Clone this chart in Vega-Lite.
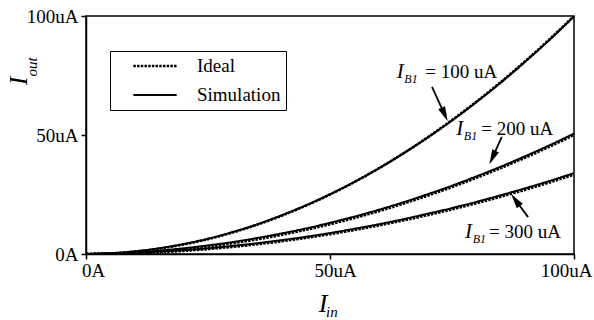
{
  "$schema": "https://vega.github.io/schema/vega-lite/v6.json",
  "width": 488,
  "height": 238,
  "autosize": {"type": "none"},
  "padding": {"left": 86, "top": 16, "right": 20, "bottom": 66},
  "background": "white",
  "config": {
    "font": "Liberation Serif, Times New Roman, serif",
    "view": {"stroke": "black", "strokeWidth": 1.5},
    "axis": {"grid": false, "domainColor": "black", "domainWidth": 1.5, "tickColor": "black", "tickWidth": 1.5, "tickSize": 5, "labelFont": "Liberation Serif, Times New Roman, serif", "labelFontSize": 19, "labelColor": "black", "title": null}
  },
  "datasets": {
    "curves": [
      {"Iin":0,"Iout":0,"IB":"100","type":"Ideal"},{"Iin":5,"Iout":0.25,"IB":"100","type":"Ideal"},{"Iin":10,"Iout":1,"IB":"100","type":"Ideal"},{"Iin":15,"Iout":2.25,"IB":"100","type":"Ideal"},{"Iin":20,"Iout":4,"IB":"100","type":"Ideal"},{"Iin":25,"Iout":6.25,"IB":"100","type":"Ideal"},{"Iin":30,"Iout":9,"IB":"100","type":"Ideal"},{"Iin":35,"Iout":12.25,"IB":"100","type":"Ideal"},{"Iin":40,"Iout":16,"IB":"100","type":"Ideal"},{"Iin":45,"Iout":20.25,"IB":"100","type":"Ideal"},{"Iin":50,"Iout":25,"IB":"100","type":"Ideal"},{"Iin":55,"Iout":30.25,"IB":"100","type":"Ideal"},{"Iin":60,"Iout":36,"IB":"100","type":"Ideal"},{"Iin":65,"Iout":42.25,"IB":"100","type":"Ideal"},{"Iin":70,"Iout":49,"IB":"100","type":"Ideal"},{"Iin":75,"Iout":56.25,"IB":"100","type":"Ideal"},{"Iin":80,"Iout":64,"IB":"100","type":"Ideal"},{"Iin":85,"Iout":72.25,"IB":"100","type":"Ideal"},{"Iin":90,"Iout":81,"IB":"100","type":"Ideal"},{"Iin":95,"Iout":90.25,"IB":"100","type":"Ideal"},{"Iin":100,"Iout":100,"IB":"100","type":"Ideal"},
      {"Iin":0,"Iout":0,"IB":"200","type":"Ideal"},{"Iin":5,"Iout":0.13,"IB":"200","type":"Ideal"},{"Iin":10,"Iout":0.5,"IB":"200","type":"Ideal"},{"Iin":15,"Iout":1.13,"IB":"200","type":"Ideal"},{"Iin":20,"Iout":2,"IB":"200","type":"Ideal"},{"Iin":25,"Iout":3.13,"IB":"200","type":"Ideal"},{"Iin":30,"Iout":4.5,"IB":"200","type":"Ideal"},{"Iin":35,"Iout":6.13,"IB":"200","type":"Ideal"},{"Iin":40,"Iout":8,"IB":"200","type":"Ideal"},{"Iin":45,"Iout":10.13,"IB":"200","type":"Ideal"},{"Iin":50,"Iout":12.5,"IB":"200","type":"Ideal"},{"Iin":55,"Iout":15.13,"IB":"200","type":"Ideal"},{"Iin":60,"Iout":18,"IB":"200","type":"Ideal"},{"Iin":65,"Iout":21.13,"IB":"200","type":"Ideal"},{"Iin":70,"Iout":24.5,"IB":"200","type":"Ideal"},{"Iin":75,"Iout":28.13,"IB":"200","type":"Ideal"},{"Iin":80,"Iout":32,"IB":"200","type":"Ideal"},{"Iin":85,"Iout":36.13,"IB":"200","type":"Ideal"},{"Iin":90,"Iout":40.5,"IB":"200","type":"Ideal"},{"Iin":95,"Iout":45.13,"IB":"200","type":"Ideal"},{"Iin":100,"Iout":50,"IB":"200","type":"Ideal"},
      {"Iin":0,"Iout":0,"IB":"300","type":"Ideal"},{"Iin":5,"Iout":0.08,"IB":"300","type":"Ideal"},{"Iin":10,"Iout":0.33,"IB":"300","type":"Ideal"},{"Iin":15,"Iout":0.75,"IB":"300","type":"Ideal"},{"Iin":20,"Iout":1.33,"IB":"300","type":"Ideal"},{"Iin":25,"Iout":2.08,"IB":"300","type":"Ideal"},{"Iin":30,"Iout":3,"IB":"300","type":"Ideal"},{"Iin":35,"Iout":4.08,"IB":"300","type":"Ideal"},{"Iin":40,"Iout":5.33,"IB":"300","type":"Ideal"},{"Iin":45,"Iout":6.75,"IB":"300","type":"Ideal"},{"Iin":50,"Iout":8.33,"IB":"300","type":"Ideal"},{"Iin":55,"Iout":10.08,"IB":"300","type":"Ideal"},{"Iin":60,"Iout":12,"IB":"300","type":"Ideal"},{"Iin":65,"Iout":14.08,"IB":"300","type":"Ideal"},{"Iin":70,"Iout":16.33,"IB":"300","type":"Ideal"},{"Iin":75,"Iout":18.75,"IB":"300","type":"Ideal"},{"Iin":80,"Iout":21.33,"IB":"300","type":"Ideal"},{"Iin":85,"Iout":24.08,"IB":"300","type":"Ideal"},{"Iin":90,"Iout":27,"IB":"300","type":"Ideal"},{"Iin":95,"Iout":30.08,"IB":"300","type":"Ideal"},{"Iin":100,"Iout":33.33,"IB":"300","type":"Ideal"},
      {"Iin":0,"Iout":0,"IB":"100","type":"Simulation"},{"Iin":5,"Iout":0.3,"IB":"100","type":"Simulation"},{"Iin":10,"Iout":1.1,"IB":"100","type":"Simulation"},{"Iin":15,"Iout":2.4,"IB":"100","type":"Simulation"},{"Iin":20,"Iout":4.2,"IB":"100","type":"Simulation"},{"Iin":25,"Iout":6.4,"IB":"100","type":"Simulation"},{"Iin":30,"Iout":9.2,"IB":"100","type":"Simulation"},{"Iin":35,"Iout":12.4,"IB":"100","type":"Simulation"},{"Iin":40,"Iout":16.2,"IB":"100","type":"Simulation"},{"Iin":45,"Iout":20.4,"IB":"100","type":"Simulation"},{"Iin":50,"Iout":25.1,"IB":"100","type":"Simulation"},{"Iin":55,"Iout":30.3,"IB":"100","type":"Simulation"},{"Iin":60,"Iout":36,"IB":"100","type":"Simulation"},{"Iin":65,"Iout":42.2,"IB":"100","type":"Simulation"},{"Iin":70,"Iout":48.9,"IB":"100","type":"Simulation"},{"Iin":75,"Iout":56.1,"IB":"100","type":"Simulation"},{"Iin":80,"Iout":63.8,"IB":"100","type":"Simulation"},{"Iin":85,"Iout":72,"IB":"100","type":"Simulation"},{"Iin":90,"Iout":80.8,"IB":"100","type":"Simulation"},{"Iin":95,"Iout":90,"IB":"100","type":"Simulation"},{"Iin":100,"Iout":99.8,"IB":"100","type":"Simulation"},
      {"Iin":0,"Iout":0,"IB":"200","type":"Simulation"},{"Iin":5,"Iout":0.2,"IB":"200","type":"Simulation"},{"Iin":10,"Iout":0.7,"IB":"200","type":"Simulation"},{"Iin":15,"Iout":1.4,"IB":"200","type":"Simulation"},{"Iin":20,"Iout":2.4,"IB":"200","type":"Simulation"},{"Iin":25,"Iout":3.6,"IB":"200","type":"Simulation"},{"Iin":30,"Iout":5,"IB":"200","type":"Simulation"},{"Iin":35,"Iout":6.7,"IB":"200","type":"Simulation"},{"Iin":40,"Iout":8.6,"IB":"200","type":"Simulation"},{"Iin":45,"Iout":10.7,"IB":"200","type":"Simulation"},{"Iin":50,"Iout":13.1,"IB":"200","type":"Simulation"},{"Iin":55,"Iout":15.7,"IB":"200","type":"Simulation"},{"Iin":60,"Iout":18.6,"IB":"200","type":"Simulation"},{"Iin":65,"Iout":21.7,"IB":"200","type":"Simulation"},{"Iin":70,"Iout":25.1,"IB":"200","type":"Simulation"},{"Iin":75,"Iout":28.7,"IB":"200","type":"Simulation"},{"Iin":80,"Iout":32.6,"IB":"200","type":"Simulation"},{"Iin":85,"Iout":36.7,"IB":"200","type":"Simulation"},{"Iin":90,"Iout":41.1,"IB":"200","type":"Simulation"},{"Iin":95,"Iout":45.7,"IB":"200","type":"Simulation"},{"Iin":100,"Iout":50.6,"IB":"200","type":"Simulation"},
      {"Iin":0,"Iout":0,"IB":"300","type":"Simulation"},{"Iin":5,"Iout":0.15,"IB":"300","type":"Simulation"},{"Iin":10,"Iout":0.5,"IB":"300","type":"Simulation"},{"Iin":15,"Iout":1,"IB":"300","type":"Simulation"},{"Iin":20,"Iout":1.6,"IB":"300","type":"Simulation"},{"Iin":25,"Iout":2.4,"IB":"300","type":"Simulation"},{"Iin":30,"Iout":3.4,"IB":"300","type":"Simulation"},{"Iin":35,"Iout":4.5,"IB":"300","type":"Simulation"},{"Iin":40,"Iout":5.8,"IB":"300","type":"Simulation"},{"Iin":45,"Iout":7.2,"IB":"300","type":"Simulation"},{"Iin":50,"Iout":8.8,"IB":"300","type":"Simulation"},{"Iin":55,"Iout":10.6,"IB":"300","type":"Simulation"},{"Iin":60,"Iout":12.5,"IB":"300","type":"Simulation"},{"Iin":65,"Iout":14.6,"IB":"300","type":"Simulation"},{"Iin":70,"Iout":16.9,"IB":"300","type":"Simulation"},{"Iin":75,"Iout":19.3,"IB":"300","type":"Simulation"},{"Iin":80,"Iout":21.9,"IB":"300","type":"Simulation"},{"Iin":85,"Iout":24.7,"IB":"300","type":"Simulation"},{"Iin":90,"Iout":27.6,"IB":"300","type":"Simulation"},{"Iin":95,"Iout":30.7,"IB":"300","type":"Simulation"},{"Iin":100,"Iout":34,"IB":"300","type":"Simulation"}
    ],
    "italic": [
      {"x":48.6,"y":-24.4,"text":"I","size":26,"angle":0,"align":"center"},
      {"x":50.4,"y":-26.3,"text":"in","size":15,"angle":0,"align":"left"},
      {"x":-12.1,"y":72.7,"text":"I","size":26,"angle":270,"align":"center"},
      {"x":-10.0,"y":78.6,"text":"out","size":15,"angle":270,"align":"left"},
      {"x":64.4,"y":73.9,"text":"I","size":21,"angle":0,"align":"left"},
      {"x":66.6,"y":71.8,"text":"B1","size":12,"angle":0,"align":"left"},
      {"x":76.6,"y":50.0,"text":"I","size":21,"angle":0,"align":"left"},
      {"x":78.8,"y":47.9,"text":"B1","size":12,"angle":0,"align":"left"},
      {"x":78.4,"y":6.7,"text":"I","size":21,"angle":0,"align":"left"},
      {"x":80.6,"y":4.6,"text":"B1","size":12,"angle":0,"align":"left"}
    ],
    "regular": [
      {"x":69.5,"y":73.9,"text":"= 100 uA"},
      {"x":81.0,"y":50.0,"text":"= 200 uA"},
      {"x":82.6,"y":6.7,"text":"= 300 uA"}
    ],
    "arrows": [
      {"x":70.9,"y":70.2,"x2":73.5,"y2":58.6,"angle":155.6},
      {"x":85.2,"y":49.2,"x2":83.3,"y2":40.5,"angle":204.8},
      {"x":90.6,"y":15.5,"x2":88.0,"y2":22.7,"angle":324}
    ]
  },
  "layer": [
    {
      "data": {"name": "curves"},
      "mark": {"type": "line", "interpolate": "monotone", "color": "black", "clip": true},
      "encoding": {
        "x": {"field": "Iin", "type": "quantitative", "scale": {"domain": [0, 100], "nice": false},
              "axis": {"values": [0, 50, 100], "labelExpr": "datum.value == 0 ? '0A' : datum.value + 'uA'", "labelPadding": 2, "labelFlush": false,
                       "labelOffset": {"condition": [{"test": "datum.value == 0", "value": 7}, {"test": "datum.value == 100", "value": -8}], "value": 5}}},
        "y": {"field": "Iout", "type": "quantitative", "scale": {"domain": [0, 100], "nice": false},
              "axis": {"values": [0, 50, 100], "labelExpr": "datum.value == 0 ? '0A' : datum.value + 'uA'", "labelPadding": 3, "labelFlush": false}},
        "detail": {"field": "IB"},
        "order": {"field": "Iin"},
        "strokeDash": {"field": "type", "type": "nominal",
          "scale": {"domain": ["Ideal", "Simulation"], "range": [[2.5, 1.2], [1, 0]]},
          "legend": {"title": null,
            "orient": "none", "legendX": 24, "legendY": 35,
            "strokeColor": "black", "fillColor": "white", "padding": 5,
            "symbolType": "M-2.5,0H2.5", "symbolSize": 300, "symbolStrokeWidth": 2.5, "symbolStrokeColor": "black", "symbolOffset": 30,
            "labelFont": "Liberation Serif, Times New Roman, serif", "labelFontSize": 19, "labelColor": "black", "labelOffset": 32,
            "rowPadding": 9}},
        "strokeWidth": {"field": "type", "type": "nominal", "scale": {"domain": ["Ideal", "Simulation"], "range": [2.6, 2]}, "legend": null}
      }
    },
    {
      "data": {"name": "arrows"},
      "mark": {"type": "rule", "color": "black", "strokeWidth": 1.8, "clip": false},
      "encoding": {
        "x": {"field": "x", "type": "quantitative"},
        "y": {"field": "y", "type": "quantitative"},
        "x2": {"field": "x2"},
        "y2": {"field": "y2"}
      }
    },
    {
      "data": {"name": "arrows"},
      "mark": {"type": "point", "shape": "M0,-1L0.5,1L-0.5,1Z", "filled": true, "color": "black", "opacity": 1, "size": 220, "clip": false},
      "encoding": {
        "x": {"field": "x2", "type": "quantitative"},
        "y": {"field": "y2", "type": "quantitative"},
        "angle": {"field": "angle", "type": "quantitative", "scale": null}
      }
    },
    {
      "data": {"name": "italic"},
      "mark": {"type": "text", "fontStyle": "italic", "font": "Liberation Serif, Times New Roman, serif", "color": "black", "baseline": "alphabetic", "clip": false},
      "encoding": {
        "x": {"field": "x", "type": "quantitative"},
        "y": {"field": "y", "type": "quantitative"},
        "text": {"field": "text"},
        "size": {"field": "size", "type": "quantitative", "scale": null},
        "angle": {"field": "angle", "type": "quantitative", "scale": null},
        "align": {"field": "align", "type": "nominal", "scale": null}
      }
    },
    {
      "data": {"name": "regular"},
      "mark": {"type": "text", "font": "Liberation Serif, Times New Roman, serif", "fontSize": 19, "color": "black", "align": "left", "baseline": "alphabetic", "clip": false},
      "encoding": {
        "x": {"field": "x", "type": "quantitative"},
        "y": {"field": "y", "type": "quantitative"},
        "text": {"field": "text"}
      }
    }
  ]
}
